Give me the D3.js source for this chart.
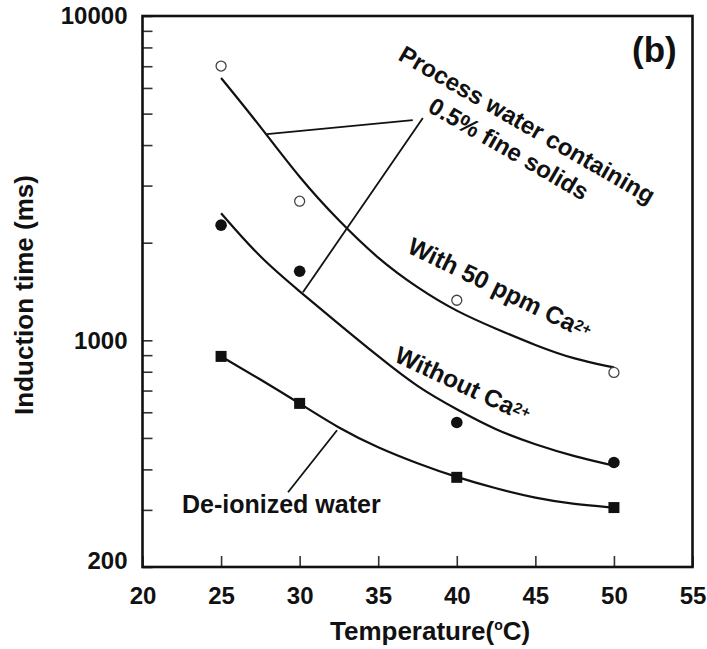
<!DOCTYPE html>
<html>
<head>
<meta charset="utf-8">
<script src="https://cdn.jsdelivr.net/npm/d3@7"></script>
<style>
  html, body { margin: 0; padding: 0; background: #fff; }
  svg { display: block; }
  text { font-family: "Liberation Sans", Arial, Helvetica, sans-serif; font-weight: bold; fill: #111; }
</style>
</head>
<body>
<svg id="chart" width="707" height="649"></svg>
<script>
// ---- data ----
const temperatures = [25, 30, 40, 50];
const withCa = [7010, 2685, 1329, 796];          // open circles
const withoutCa = [2265, 1633, 558, 420];        // filled circles
const deionized = [892, 639, 378, 305];          // filled squares

const fitT = [25, 27.5, 30, 32.5, 35, 37.5, 40, 42.5, 45, 47.5, 50];
const fitWithCa = [6440, 4570, 3160, 2330, 1780, 1450, 1225, 1085, 965, 873, 825];
const fitWithoutCa = [2466, 1791, 1416, 1121, 892, 716, 612, 528, 477, 438, 411];
const fitDeionized = [892, 758, 639, 535, 466, 417, 378, 349, 326, 312, 305];

const xTicks = [20, 25, 30, 35, 40, 45, 50, 55];
const yTicks = [200, 300, 400, 500, 600, 700, 800, 900, 1000, 2000, 3000, 4000, 5000, 6000, 7000, 8000, 9000, 10000];
const yLabels = [200, 1000, 10000];

(function () {
// ---- layout ----
const svg = d3.select("#chart");
const mLeft = 142.5, mRight = 692.5, mTop = 16, mBottom = 567;
const x = d3.scaleLinear().domain([20, 55]).range([mLeft, mRight]);
const y = d3.scaleLog().domain([200, 10000]).range([mBottom, mTop]);

// axes
const xAxis = d3.axisBottom(x).tickValues(xTicks).tickSize(-11).tickPadding(20).tickFormat(d3.format("d"));
const gx = svg.append("g").attr("transform", `translate(0,${mBottom})`).call(xAxis);
gx.select(".domain").remove();
gx.selectAll(".tick line").attr("stroke", "#333").attr("stroke-width", 1.6);
gx.selectAll(".tick text").style("font-size", "24px").attr("fill", "#111");

const yAxis = d3.axisLeft(y).tickValues(yTicks).tickSize(-10).tickPadding(15)
  .tickFormat(d => yLabels.includes(d) ? String(d) : "");
const gy = svg.append("g").attr("transform", `translate(${mLeft},0)`).call(yAxis);
gy.select(".domain").remove();
gy.selectAll(".tick line").attr("stroke", "#333").attr("stroke-width", 1.6);
gy.selectAll(".tick text").style("font-size", "24px").attr("fill", "#111");
gy.selectAll(".tick").filter(d => d === 200).select("text").attr("y", -6);

// frame
svg.append("rect").attr("x", mLeft).attr("y", mTop)
  .attr("width", mRight - mLeft).attr("height", mBottom - mTop)
  .attr("fill", "none").attr("stroke", "#111").attr("stroke-width", 2.6);

// axis titles
const xt = svg.append("text").attr("x", 330).attr("y", 640).style("font-size", "26px");
xt.append("tspan").text("Temperature(");
xt.append("tspan").text("o").style("font-size", "14px").attr("dy", -10);
xt.append("tspan").text("C)").attr("dy", 10);

svg.append("text").attr("transform", "translate(33,295) rotate(-90)")
  .attr("text-anchor", "middle").style("font-size", "26px").text("Induction time (ms)");

// fitted curves
const line = d3.line().x(d => x(d[0])).y(d => y(d[1])).curve(d3.curveBasis);
[fitWithCa, fitWithoutCa, fitDeionized].forEach(vals => {
  svg.append("path").datum(fitT.map((t, i) => [t, vals[i]]))
    .attr("d", line).attr("fill", "none").attr("stroke", "#111").attr("stroke-width", 2.2);
});

// markers
svg.append("g").selectAll("circle").data(temperatures.map((t, i) => [t, withCa[i]])).join("circle")
  .attr("cx", d => x(d[0])).attr("cy", d => y(d[1])).attr("r", 5)
  .attr("fill", "#fff").attr("stroke", "#444").attr("stroke-width", 1.3);
svg.append("g").selectAll("circle").data(temperatures.map((t, i) => [t, withoutCa[i]])).join("circle")
  .attr("cx", d => x(d[0])).attr("cy", d => y(d[1])).attr("r", 5.8).attr("fill", "#111");
svg.append("g").selectAll("rect").data(temperatures.map((t, i) => [t, deionized[i]])).join("rect")
  .attr("x", d => x(d[0]) - 5.5).attr("y", d => y(d[1]) - 5.5)
  .attr("width", 11).attr("height", 11).attr("fill", "#111");

// leader lines (data coordinates)
const leaders = [
  [[27.92, 4325], [37.2, 4775]],
  [[37.84, 4844], [30.21, 1406]],
  [[32.38, 528], [29.26, 340]]
];
leaders.forEach(seg => {
  svg.append("line")
    .attr("x1", x(seg[0][0])).attr("y1", y(seg[0][1]))
    .attr("x2", x(seg[1][0])).attr("y2", y(seg[1][1]))
    .attr("stroke", "#111").attr("stroke-width", 1.8);
});

// annotations
const g1 = svg.append("g").attr("transform", "translate(523,132) rotate(30)");
g1.append("text").attr("text-anchor", "middle").style("font-size", "24px").text("Process water containing");
g1.append("text").attr("x", -4).attr("y", 30).attr("text-anchor", "middle").style("font-size", "24px").text("0.5% fine solids");

const t2 = svg.append("text").attr("transform", "translate(406,252) rotate(26)").style("font-size", "24.5px");
t2.append("tspan").text("With 50 ppm Ca");
t2.append("tspan").text("2+").style("font-size", "15px").attr("dy", -5);

const t3 = svg.append("text").attr("transform", "translate(393,361) rotate(25)").style("font-size", "24.5px");
t3.append("tspan").text("Without Ca");
t3.append("tspan").text("2+").style("font-size", "15px").attr("dy", -5);

svg.append("text").attr("x", 182).attr("y", 513).style("font-size", "25px").text("De-ionized water");

svg.append("text").attr("x", 632).attr("y", 62).style("font-size", "35px").text("(b)");
})();
</script>
</body>
</html>
